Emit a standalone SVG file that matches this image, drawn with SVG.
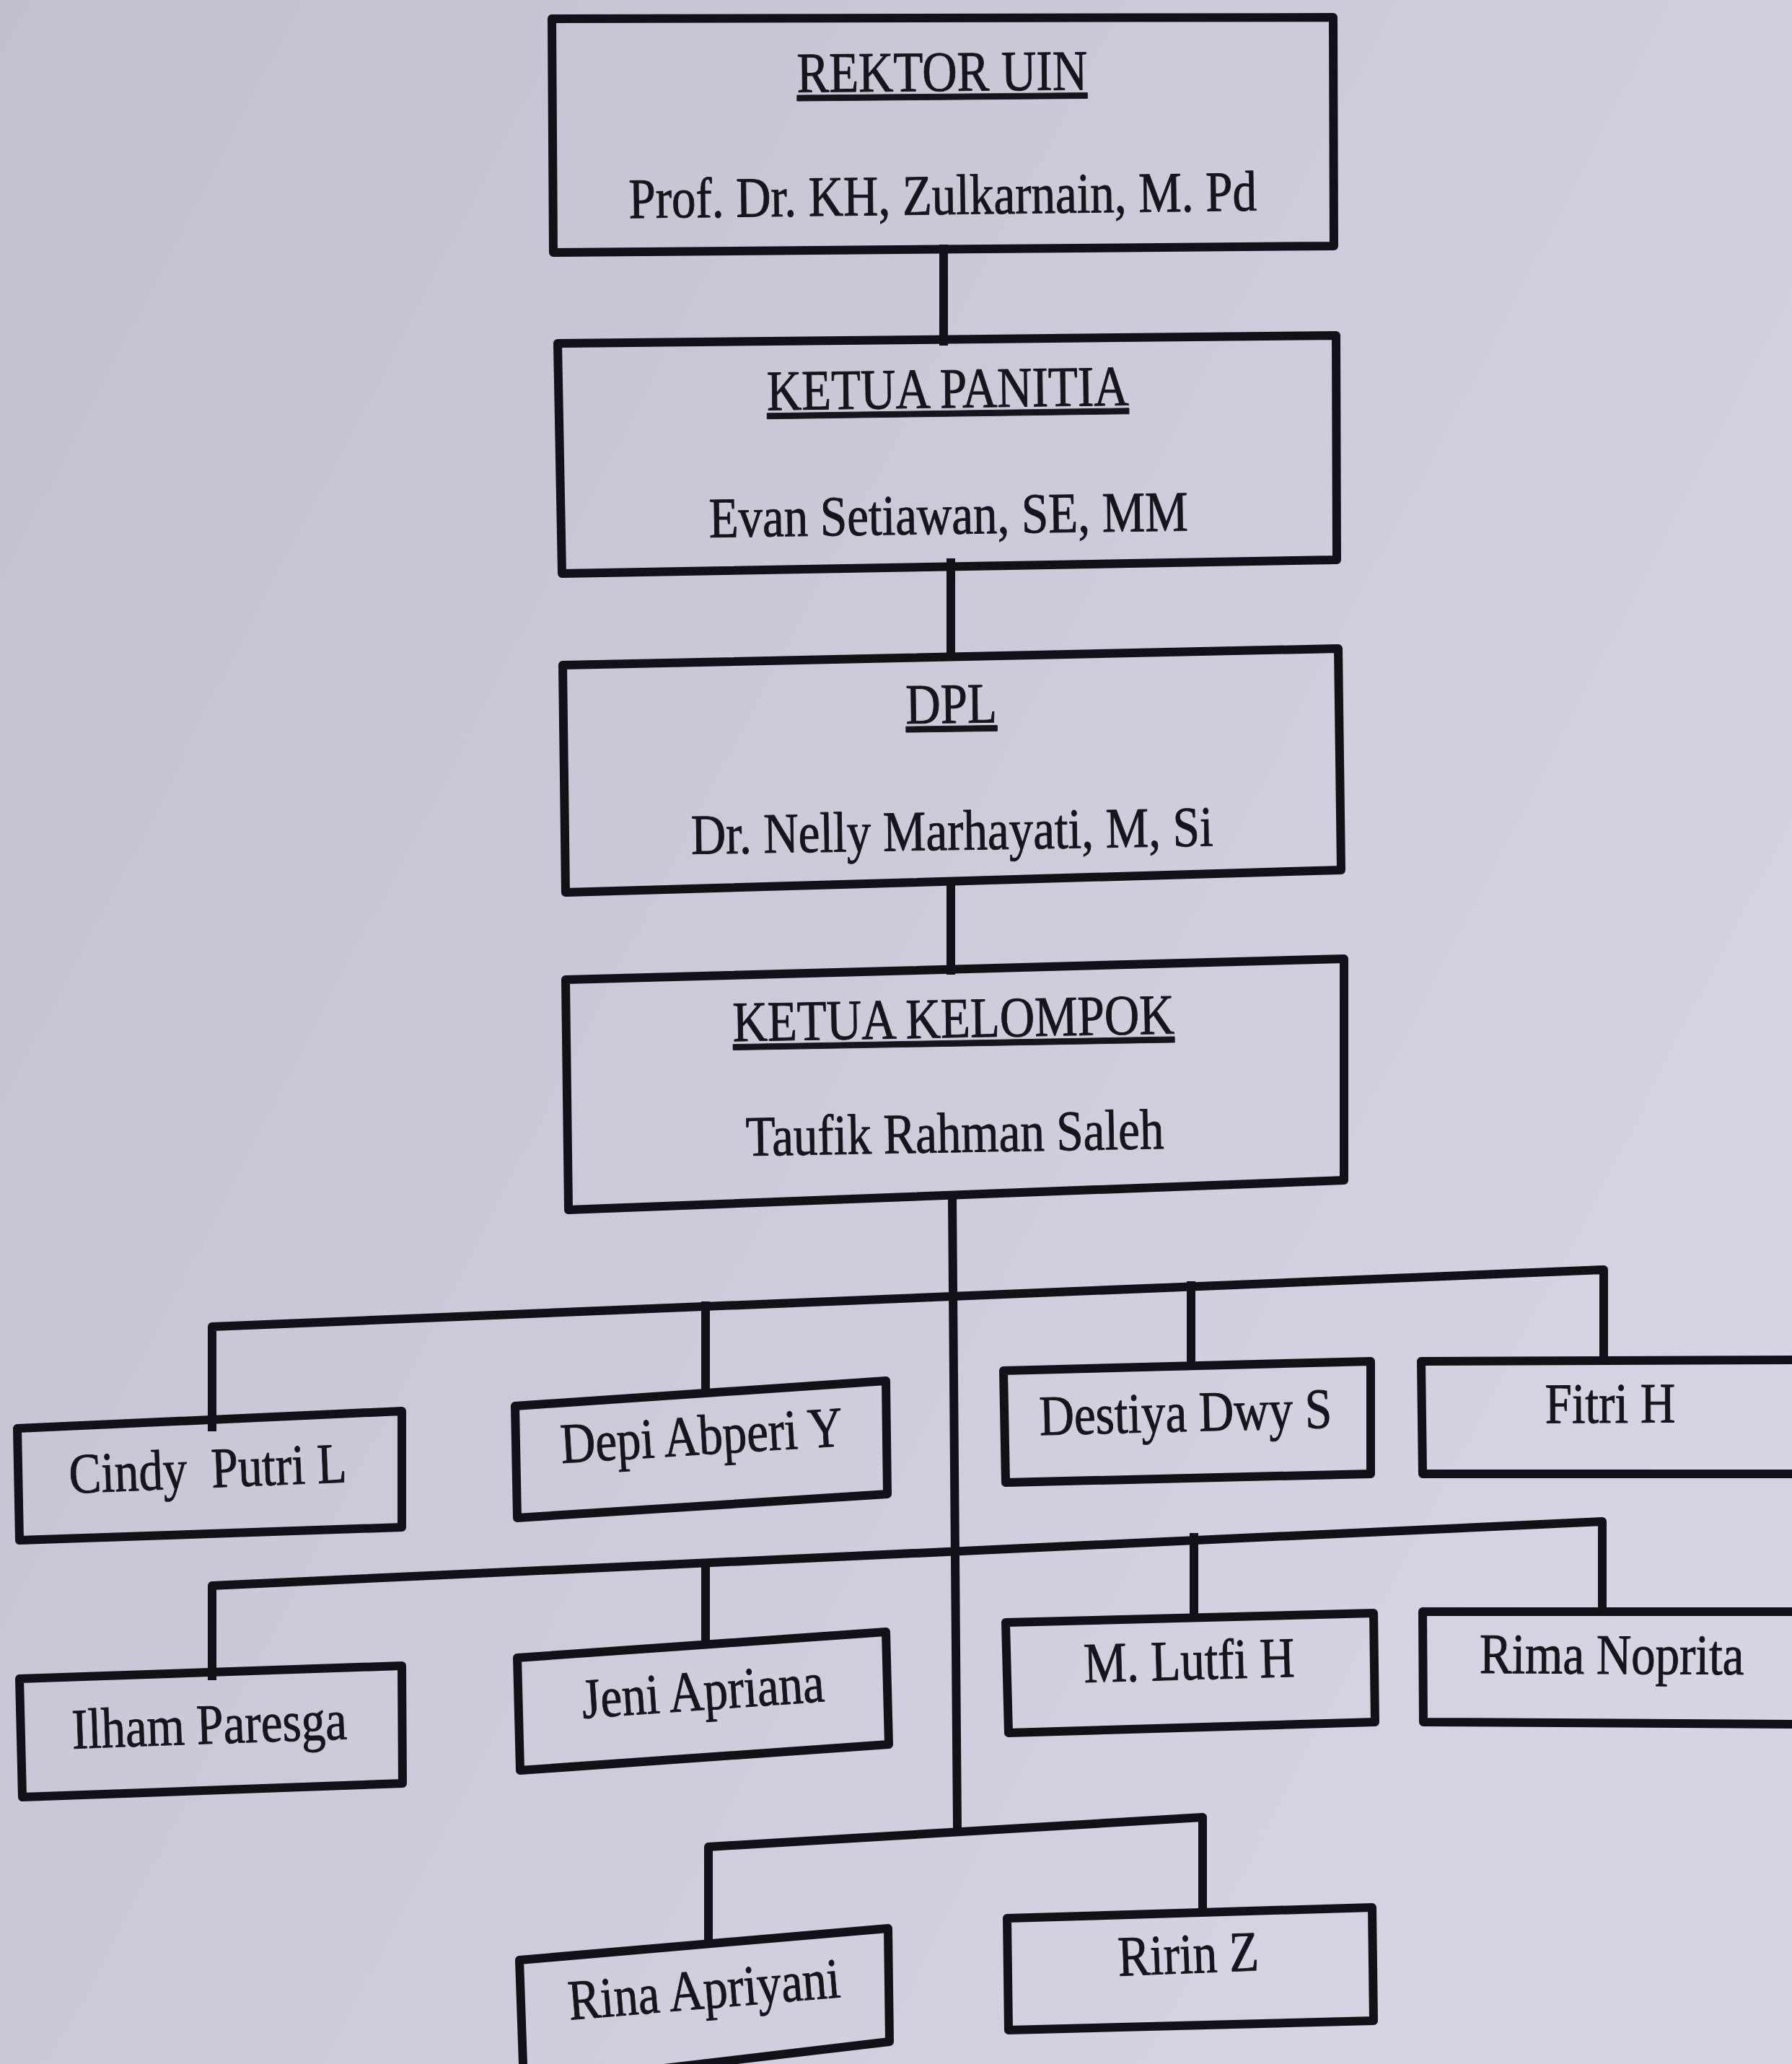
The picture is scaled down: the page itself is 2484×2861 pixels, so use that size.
<svg xmlns="http://www.w3.org/2000/svg" width="2484" height="2861" viewBox="0 0 2484 2861">
<defs>
<linearGradient id="bg" x1="0" y1="0" x2="1" y2="0.6">
<stop offset="0" stop-color="#c1c0cf"/>
<stop offset="1" stop-color="#d5d4e2"/>
</linearGradient>
</defs>
<style>
.box{fill:none;stroke:#111117;stroke-width:12;stroke-linejoin:round}
.ln{fill:none;stroke:#111117;stroke-width:12;stroke-linejoin:round;stroke-linecap:square}
.t{font-family:"Liberation Serif","Times New Roman",serif;font-size:67px;fill:#15151c;stroke:#15151c;stroke-width:0.8;text-anchor:middle}
.u{text-decoration:underline}
</style>
<rect x="0" y="0" width="2484" height="2861" fill="url(#bg)"/>
<g id="connectors">
<path class="ln" d="M1308,345 L1308,473"/>
<path class="ln" d="M1318,780 L1318,905"/>
<path class="ln" d="M1318,1225 L1318,1345"/>
<path class="ln" d="M1320,1660 L1327,2533"/>
<path class="ln" d="M294,1978 L294,1839 L2223,1760 L2223,1885"/>
<path class="ln" d="M978,1810 L978,1925"/>
<path class="ln" d="M1651,1782 L1651,1892"/>
<path class="ln" d="M294,2323 L294,2198 L2221,2109 L2221,2233"/>
<path class="ln" d="M978,2167 L978,2279"/>
<path class="ln" d="M1655,2131 L1655,2240"/>
<path class="ln" d="M982,2690 L982,2560 L1667,2519 L1667,2648"/>
</g>
<g id="rektor">
<path class="box" d="M765,26 L1848,24 L1849,341 L767,350 Z"/>
<text class="t u" transform="translate(1306 126) rotate(-0.5) scale(1 1.18)">REKTOR UIN</text>
<text class="t" transform="translate(1307 297) rotate(-0.7) scale(1 1.18)">Prof. Dr. KH, Zulkarnain, M. Pd</text>
</g>
<g id="ketua-panitia">
<path class="box" d="M773,476 L1852,465 L1853,776 L779,795 Z"/>
<text class="t u" transform="translate(1314 565) rotate(-0.8) scale(1 1.18)">KETUA PANITIA</text>
<text class="t" transform="translate(1315 740) rotate(-0.8) scale(1 1.18)">Evan Setiawan, SE, MM</text>
</g>
<g id="dpl">
<path class="box" d="M780,922 L1855,899 L1859,1206 L784,1237 Z"/>
<text class="t u" transform="translate(1319 1002) rotate(-0.8) scale(1 1.18)">DPL</text>
<text class="t" transform="translate(1320 1178) rotate(-0.9) scale(1 1.18)">Dr. Nelly Marhayati, M, Si</text>
</g>
<g id="ketua-kelompok">
<path class="box" d="M784,1358 L1863,1329 L1863,1636 L788,1677 Z"/>
<text class="t u" transform="translate(1322 1438) rotate(-1) scale(1 1.18)">KETUA KELOMPOK</text>
<text class="t" transform="translate(1324 1597) rotate(-1) scale(1 1.18)">Taufik Rahman Saleh</text>
</g>
<g id="cindy">
<path class="box" d="M24,1980 L557,1956 L557,2117 L27,2135 Z"/>
<text class="t" transform="translate(289 2062) rotate(-2.3) scale(1 1.18)">Cindy&#160; Putri L</text>
</g>
<g id="depi">
<path class="box" d="M714,1949 L1228,1914 L1230,2071 L717,2104 Z"/>
<text class="t" transform="translate(974 2016) rotate(-3.5) scale(1 1.18)">Depi Abperi Y</text>
</g>
<g id="destiya">
<path class="box" d="M1391,1900 L1900,1887 L1900,2043 L1394,2055 Z"/>
<text class="t" transform="translate(1644 1984) rotate(-1.5) scale(1 1.18)">Destiya Dwy S</text>
</g>
<g id="fitri">
<path class="box" d="M2500,1885 L1970,1887 L1972,2043 L2500,2043"/>
<text class="t" transform="translate(2232 1972) rotate(-0.3) scale(1 1.18)">Fitri H</text>
</g>
<g id="ilham">
<path class="box" d="M27,2327 L557,2309 L558,2472 L31,2491 Z"/>
<text class="t" transform="translate(291 2417) rotate(-2) scale(1 1.18)">Ilham Paresga</text>
</g>
<g id="jeni">
<path class="box" d="M717,2298 L1228,2262 L1232,2418 L721,2454 Z"/>
<text class="t" transform="translate(976 2370) rotate(-4) scale(1 1.18)">Jeni Apriana</text>
</g>
<g id="lutfi">
<path class="box" d="M1394,2249 L1904,2236 L1906,2387 L1398,2402 Z"/>
<text class="t" transform="translate(1649 2328) rotate(-1.6) scale(1 1.18)">M. Lutfi H</text>
</g>
<g id="rima">
<path class="box" d="M2500,2234 L1972,2234 L1973,2387 L2500,2390"/>
<text class="t" transform="translate(2234 2320) rotate(0.3) scale(1 1.18)">Rima Noprita</text>
</g>
<g id="rina">
<path class="box" d="M720,2717 L1231,2673 L1233,2830 L726,2890 Z"/>
<text class="t" transform="translate(978 2784) rotate(-4.8) scale(1 1.18)">Rina Apriyani</text>
</g>
<g id="ririn">
<path class="box" d="M1396,2659 L1902,2644 L1904,2801 L1398,2814 Z"/>
<text class="t" transform="translate(1648 2735) rotate(-2.2) scale(1 1.18)">Ririn Z</text>
</g>
</svg>
